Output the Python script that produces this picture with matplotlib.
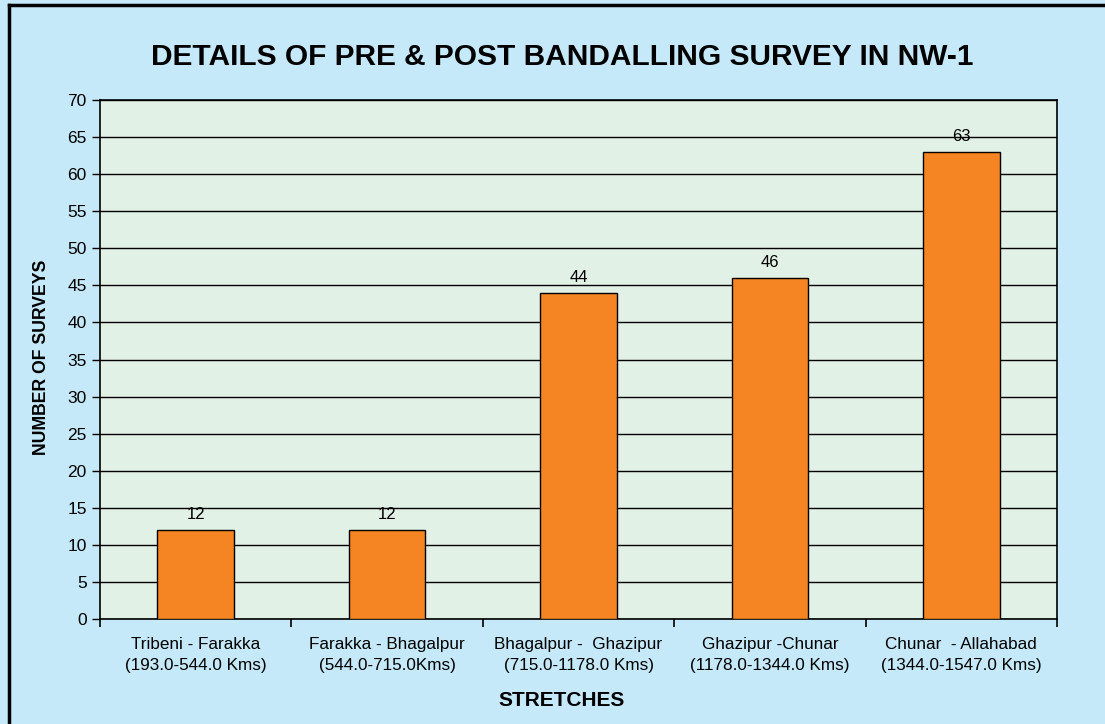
import matplotlib.pyplot as plt
import numpy as np
from matplotlib.lines import Line2D

plt.rcParams['font.family'] = ['Liberation Sans', 'DejaVu Sans']

stretches = ['Tribeni - Farakka\n(193.0-544.0 Kms)',
             'Farakka - Bhagalpur\n(544.0-715.0Kms)',
             'Bhagalpur -  Ghazipur\n(715.0-1178.0 Kms)',
             'Ghazipur -Chunar\n(1178.0-1344.0 Kms)',
             'Chunar  - Allahabad\n(1344.0-1547.0 Kms)']
surveys = [12, 12, 44, 46, 63]

W, H = 1105, 724
fig = plt.figure(figsize=(W / 100, H / 100), dpi=100)
fig.patch.set_facecolor('#C6E9F9')
# border only visible on left and top
fig.add_artist(Line2D([9 / W, 9 / W], [0, 1 - 5 / H], color='black', lw=2.5, transform=fig.transFigure))
fig.add_artist(Line2D([9 / W, 1], [1 - 5 / H, 1 - 5 / H], color='black', lw=2.5, transform=fig.transFigure))

ax = fig.add_axes([100 / W, 105 / H, 957 / W, 519 / H])
ax.set_facecolor('#E2F1E6')

x = np.arange(len(surveys))
bars = ax.bar(x, surveys, width=0.4, color='#F58422', edgecolor='black', linewidth=1, zorder=3)
for b, v in zip(bars, surveys):
    ax.text(b.get_x() + b.get_width() / 2, v + 1.1, str(v), ha='center', va='bottom', fontsize=12)

ax.set_xlim(-0.5, len(surveys) - 0.5)
ax.set_ylim(0, 70)
ax.set_yticks(range(0, 71, 5))
ax.yaxis.grid(True, color='black', lw=1)
ax.set_axisbelow(True)

ax.set_xticks(x)
ax.set_xticklabels(stretches, fontsize=12.3, linespacing=1.5)
ax.tick_params(axis='x', which='major', length=0, pad=13)
ax.set_xticks(np.arange(-0.5, len(surveys), 1), minor=True)
ax.tick_params(axis='x', which='minor', length=6, width=1.2, color='black')
ax.tick_params(axis='y', length=6, width=1, labelsize=12.5)

for s in ax.spines.values():
    s.set_linewidth(1.2)

fig.text(562 / W, 1 - 57 / H, 'DETAILS OF PRE & POST BANDALLING SURVEY IN NW-1',
         fontsize=21.5, fontweight='bold', ha='center', va='center')
fig.text(562 / W, 1 - 700 / H, 'STRETCHES', fontsize=15, fontweight='bold', ha='center', va='center')
fig.text(42 / W, 1 - 357 / H, 'NUMBER OF SURVEYS', fontsize=12.7, fontweight='bold',
         ha='center', va='center', rotation=90)

fig.savefig('out.png', dpi=100, facecolor=fig.get_facecolor())
